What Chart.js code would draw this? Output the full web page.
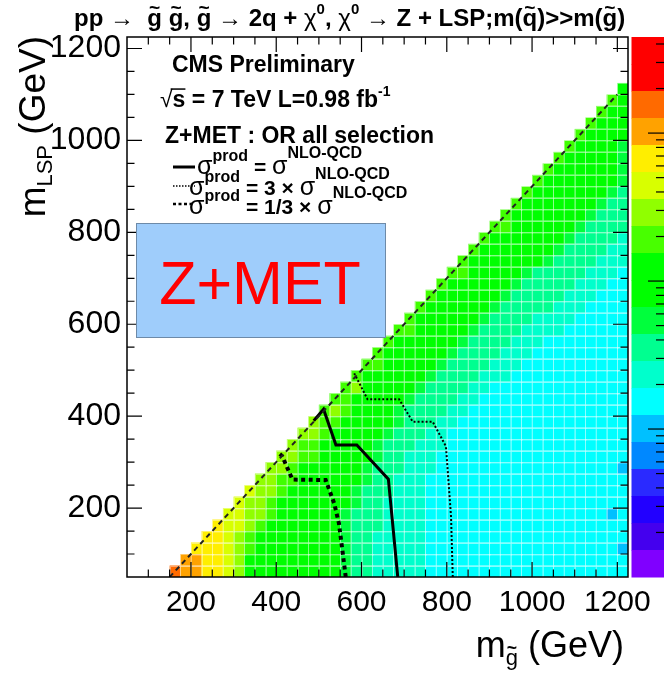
<!DOCTYPE html>
<html><head><meta charset="utf-8">
<script src="https://cdn.jsdelivr.net/npm/chart.js@4.4.1/dist/chart.umd.min.js"></script>
<style>html,body{margin:0;padding:0;background:#fff;overflow:hidden}</style>
</head><body>
<canvas id="c" width="664" height="678"></canvas>
<script>
// ---------------- DATA ----------------
const binWidth = 25;
const lspBins = [50,75,100,125,150,175,200,225,250,275,300,325,350,375,400,425,450,475,500,525,550,575,600,625,650,675,700,725,750,775,800,825,850,875,900,925,950,975,1000,1025,1050,1075,1100];
const firstGluinoBin = [150,175,200,225,250,275,300,325,350,375,400,425,450,475,500,525,550,575,600,625,650,675,700,725,750,775,800,825,850,875,900,925,950,975,1000,1025,1050,1075,1100,1125,1150,1175,1200];
// colour level of each cell along a row (run-length coded: level letter + count)
const cellLevels = [
 "O1o2Y2y1c1g9h1s2a5C19",
 "o2Y2y1c1g9h1s2a5C19",
 "Y3y1c1l1g8h1s2a5C18b1",
 "Y2y1c1l1g8h1s2a5C19",
 "Y1y2c1l1g7h1s3a4C19",
 "y2c2l1g6h1s3a4C17b1C1",
 "y1c2l1g7h1s2a4C19",
 "y1c2l1g6h1s3a3C19",
 "c2l2g6h1s2a3C19",
 "c2l1g6h1s3a3C17b1",
 "c2l2g5h1s2a3C18",
 "c1l2g5h1s3a3C17",
 "c2l1g5h1s3a2C17",
 "c1l2g5h1s3a2C16",
 "l1c1l1g4h1s4a2C15",
 "l2g5h1s4a2C14",
 "l1c1g5h1s4a2C13",
 "l1g6h1s4a3C11",
 "l2g5h1s4a3C10",
 "l1g6h1s4a3C9",
 "l1g6h1s4a3C8",
 "l2g5h1s4a4C6",
 "l1g6h1s4a4C5",
 "l1g6h1s5a3C4",
 "l1g6h1s5a3C3",
 "l1g6h1s5a3C2",
 "l2g5h1s5a3C1",
 "l1g7h1s4a3",
 "l1g7h1s4a2",
 "l1g7h1s4a1",
 "l2g6h1s4",
 "l1g7h1s3",
 "l1g7h1s2",
 "l1g7h1s1",
 "l1g7h1",
 "l1g6h1",
 "l1g5h1",
 "l1g4h1",
 "l1g4",
 "l1g3",
 "l1g2",
 "l1g1",
 "g1"
];
// exclusion contours (m_gluino, m_LSP)
const nloGluino   = [685, 663, 589, 540, 511, 488];
const nloLSP      = [50, 263, 337, 337, 415, 390];
const x3Gluino    = [814, 810, 798, 786, 767, 720, 688, 614, 583];
const x3LSP       = [50, 181, 334, 355, 388, 388, 437, 437, 493];
const thirdGluino = [563, 555, 547, 536, 516, 438, 414, 408];
const thirdLSP    = [50, 109, 167, 210, 261, 262, 313, 318];
// kinematic boundary
const diagGluino  = [150, 1200];
const diagLSP     = [50, 1100];
// axis tick labels
const xTickValues = [200, 400, 600, 800, 1000, 1200];
const yTickValues = [200, 400, 600, 800, 1000, 1200];
// colour bar (log scale)
const zMin = 1, zMax = 4460;

// ---------------- STYLE ----------------
const FAM = "'Liberation Sans', Arial, Helvetica, sans-serif";
const levelColor = {O:'#ff6a00', o:'#ffa200', Y:'#ffee00', y:'#d8ff00', c:'#90ff00', l:'#40ff00',
  g:'#00ff00', h:'#00ff3c', s:'#00ff90', a:'#00ffcc', C:'#00ffff', b:'#00c0ff'};
const paletteTopDown = ['#ff0000','#ff0000','#ff6a00','#ffa200','#ffee00','#d8ff00','#90ff00','#48ff00',
  '#00ff00','#00ff00','#00ff3c','#00ff90','#00ffcc','#00ffff','#00c0ff','#0088ff','#2a2aff','#2200ff','#4400ee','#8000ff'];

function decodeRow(str){
  const out = []; const re = /([A-Za-z])(\d+)/g; let m;
  while ((m = re.exec(str))) for (let i = 0; i < +m[2]; i++) out.push(m[1]);
  return out;
}
function pts(xs, ys){ return xs.map((x, i) => ({x, y: ys[i]})); }

function fontStr(p){ return (p.w || 'bold') + ' ' + p.s + 'px ' + (p.f || FAM); }
function drawRich(ctx, x, y, parts, align){
  let total = 0;
  for (const p of parts){ ctx.font = fontStr(p); p._w = ctx.measureText(p.t).width; total += p._w + (p.gap || 0); }
  let cx = align === 'right' ? x - total : align === 'center' ? x - total / 2 : x;
  for (const p of parts){
    ctx.font = fontStr(p); ctx.fillStyle = p.c || '#000';
    ctx.textAlign = 'left'; ctx.textBaseline = 'alphabetic';
    const by = y + (p.dy || 0);
    ctx.fillText(p.t, cx, by);
    if (p.tilde){
      ctx.font = 'bold ' + (p.s * 0.8) + 'px ' + FAM; ctx.textAlign = 'center';
      ctx.fillText('~', cx + p._w / 2, by - p.s * 0.5);
    }
    if (p.over){
      ctx.beginPath(); ctx.lineWidth = 1.5; ctx.strokeStyle = p.c || '#000';
      ctx.moveTo(cx - 2, by - p.s * 0.78); ctx.lineTo(cx + p._w, by - p.s * 0.78); ctx.stroke();
    }
    cx += p._w + (p.gap || 0);
  }
}

const heatPlugin = {
  id: 'heat',
  beforeDatasetsDraw(chart){
    const {ctx, scales:{x, y}} = chart;
    ctx.save();
    cellLevels.forEach((row, i) => {
      const lv = decodeRow(row);
      const y0 = y.getPixelForValue(lspBins[i]), y1 = y.getPixelForValue(lspBins[i] + binWidth);
      lv.forEach((code, k) => {
        const g0 = firstGluinoBin[i] + k * binWidth;
        const x0 = x.getPixelForValue(g0), x1 = x.getPixelForValue(g0 + binWidth);
        ctx.fillStyle = levelColor[code];
        ctx.fillRect(x0, y1, x1 - x0, y0 - y1);
        ctx.strokeStyle = 'rgba(255,255,255,0.4)'; ctx.lineWidth = 1;
        ctx.strokeRect(Math.round(x0) + 0.5, Math.round(y1) + 0.5, x1 - x0, y0 - y1);
      });
    });
    ctx.restore();
  }
};

const decoPlugin = {
  id: 'deco',
  afterDatasetsDraw(chart){
    const {ctx, chartArea:a, scales:{x, y}} = chart;
    ctx.save();
    ctx.strokeStyle = '#000'; ctx.lineWidth = 1.5;
    ctx.strokeRect(a.left, a.top, a.right - a.left, a.bottom - a.top);
    ctx.lineWidth = 1.2;
    for (let v = 100; v <= 1200; v += 50){
      const big = v % 200 === 0, L = big ? 15 : 7.5;
      const px = x.getPixelForValue(v), py = y.getPixelForValue(v);
      ctx.beginPath();
      ctx.moveTo(px, a.bottom); ctx.lineTo(px, a.bottom - L);
      ctx.moveTo(px, a.top); ctx.lineTo(px, a.top + L);
      ctx.moveTo(a.left, py); ctx.lineTo(a.left + L, py);
      ctx.moveTo(a.right, py); ctx.lineTo(a.right - L, py);
      ctx.stroke();
    }
    // colour bar
    const cbL = a.right + 3.5, cbR = 680, h = (a.bottom - a.top) / paletteTopDown.length;
    paletteTopDown.forEach((c, i) => { ctx.fillStyle = c; ctx.fillRect(cbL, a.top + i * h, cbR - cbL, h + 0.5); });
    const lmax = Math.log10(zMax), lmin = Math.log10(zMin);
    const zpix = v => a.top + (lmax - Math.log10(v)) / (lmax - lmin) * (a.bottom - a.top);
    ctx.strokeStyle = '#000'; ctx.lineWidth = 1.2;
    for (let dec = 1; dec <= 1000; dec *= 10){
      for (let k = 1; k <= 9; k++){
        const v = dec * k; if (v <= zMin || v >= zMax) continue;
        const py = zpix(v), L = k === 1 ? 16 : 8;
        ctx.beginPath(); ctx.moveTo(664, py); ctx.lineTo(664 - L, py); ctx.stroke();
      }
    }
    ctx.restore();
  },
  afterDraw(chart){
    const {ctx} = chart;
    ctx.save();
    // title
    const T = 24;
    drawRich(ctx, 74, 26, [
      {t:'pp \u2192  ', s:T}, {t:'g', s:T, tilde:true}, {t:' ', s:T}, {t:'g', s:T, tilde:true}, {t:', ', s:T},
      {t:'g', s:T, tilde:true}, {t:' \u2192 2q + ', s:T}, {t:'\u03c7', s:T, w:'normal'}, {t:'0', s:15, dy:-12},
      {t:', ', s:T}, {t:'\u03c7', s:T, w:'normal'}, {t:'0', s:15, dy:-12}, {t:' \u2192 Z + LSP;m(', s:T},
      {t:'q', s:T, tilde:true}, {t:')>>m(', s:T}, {t:'g', s:T, tilde:true}, {t:')', s:T}
    ]);
    // in-plot legend text
    drawRich(ctx, 172, 72, [{t:'CMS Preliminary', s:23}]);
    drawRich(ctx, 160, 107, [{t:'\u221a', s:23, w:'normal'}, {t:'s', s:23, over:true}, {t:' = 7 TeV L=0.98 fb', s:23},
      {t:'-1', s:14, dy:-11}]);
    drawRich(ctx, 165, 143, [{t:'Z+MET : OR all selection', s:23}]);
    // legend lines
    ctx.strokeStyle = '#000';
    ctx.beginPath(); ctx.lineWidth = 3; ctx.setLineDash([]); ctx.moveTo(173, 167); ctx.lineTo(195, 167); ctx.stroke();
    ctx.beginPath(); ctx.lineWidth = 1.6; ctx.setLineDash([1.5, 1.5]); ctx.moveTo(173, 186); ctx.lineTo(195, 186); ctx.stroke();
    ctx.beginPath(); ctx.lineWidth = 2.5; ctx.setLineDash([3, 2.5]); ctx.moveTo(173, 204); ctx.lineTo(195, 204); ctx.stroke();
    ctx.setLineDash([]);
    const sg = {t:'\u03c3', s:25, w:'normal'};
    drawRich(ctx, 197, 174, [sg, {t:'prod', s:16, dy:-13, gap:6}, {t:'= ', s:21}, {...sg}, {t:'NLO-QCD', s:16, dy:-16}]);
    drawRich(ctx, 189, 195, [{...sg}, {t:'prod', s:16, dy:-13, gap:6}, {t:'= 3 \u00d7 ', s:21}, {...sg}, {t:'NLO-QCD', s:16, dy:-16}]);
    drawRich(ctx, 189, 214, [{...sg}, {t:'prod', s:16, dy:-13, gap:6}, {t:'= 1/3 \u00d7 ', s:21}, {...sg}, {t:'NLO-QCD', s:16, dy:-16}]);
    // axis titles
    ctx.save(); ctx.translate(45, 36); ctx.rotate(-Math.PI / 2);
    drawRich(ctx, 0, 0, [{t:'m', s:37, w:'normal'}, {t:'LSP', s:22, w:'normal', dy:7}, {t:' (GeV)', s:37, w:'normal'}], 'right');
    ctx.restore();
    drawRich(ctx, 624, 657, [{t:'m', s:36, w:'normal'}, {t:'g', s:22, w:'normal', dy:8, tilde:true}, {t:' (GeV)', s:36, w:'normal'}], 'right');
    // Z+MET box
    ctx.fillStyle = '#9fcdfb'; ctx.fillRect(136, 223, 249, 114);
    ctx.strokeStyle = '#6d8aa8'; ctx.lineWidth = 1; ctx.strokeRect(136.5, 223.5, 249, 114);
    ctx.fillStyle = '#ff0000'; ctx.font = 'normal 61px ' + FAM; ctx.textAlign = 'center'; ctx.textBaseline = 'alphabetic';
    ctx.fillText('Z+MET', 260, 304);
    ctx.restore();
  }
};

const lineDs = (label, data, width, dash, color) => ({
  label, data, showLine: true, borderColor: color || '#000', borderWidth: width, borderDash: dash,
  pointRadius: 0, tension: 0, fill: false, borderCapStyle: 'butt', borderJoinStyle: 'miter'
});

new Chart(document.getElementById('c'), {
  type: 'scatter',
  data: { datasets: [
    lineDs('kinematic limit', pts(diagGluino, diagLSP), 2, [5, 4], '#222'),
    lineDs('1/3 x NLO', pts(thirdGluino, thirdLSP), 4, [4, 3.5]),
    lineDs('NLO', pts(nloGluino, nloLSP), 3, []),
    lineDs('3 x NLO', pts(x3Gluino, x3LSP), 2, [2, 2])
  ]},
  options: {
    responsive: false, animation: false, devicePixelRatio: 1,
    layout: { padding: { left: 0, right: 36, top: 37, bottom: 0 } },
    plugins: { legend: { display: false }, tooltip: { enabled: false } },
    scales: {
      x: {
        type: 'linear', min: 50, max: 1225,
        grid: { display: false, drawTicks: false }, border: { display: false },
        afterBuildTicks: s => { s.ticks = xTickValues.map(v => ({value: v})); },
        afterFit: s => { s.height = 101; },
        ticks: { font: { family: FAM, size: 30 }, color: '#000', padding: 8, maxRotation: 0, autoSkip: false,
                 callback: v => String(v) }
      },
      y: {
        type: 'linear', min: 50, max: 1225,
        grid: { display: false, drawTicks: false }, border: { display: false },
        afterBuildTicks: s => { s.ticks = yTickValues.map(v => ({value: v})); },
        afterFit: s => { s.width = 127; },
        ticks: { font: { family: FAM, size: 32 }, color: '#000', padding: 6, autoSkip: false,
                 callback: v => String(v) }
      }
    }
  },
  plugins: [heatPlugin, decoPlugin]
});
</script>
</body></html>
